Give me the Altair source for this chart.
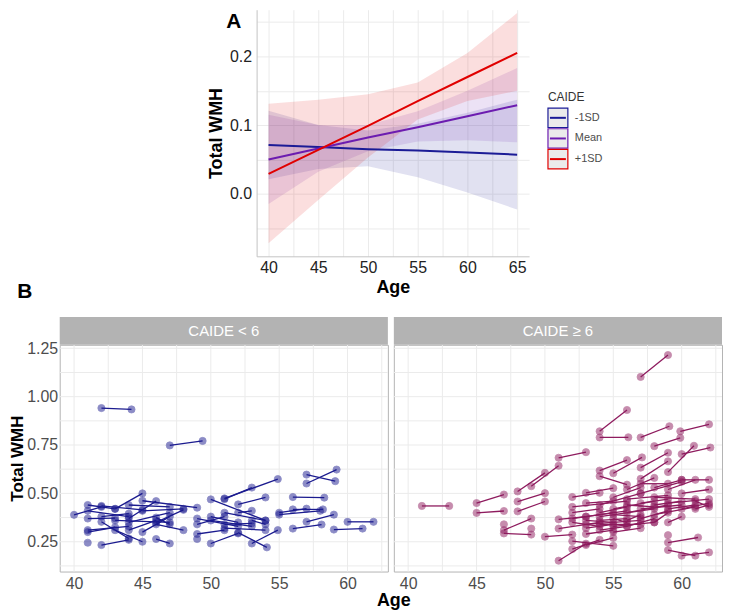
import altair as alt
import pandas as pd

FONT = "Liberation Sans"

# ---------------- Panel A data ----------------
fit_age = [40, 45, 50, 55, 60, 65]
caide_levels = ["-1SD", "Mean", "+1SD"]
caide_colors = ["#1b1b96", "#6c1cb0", "#e00000"]

fit_m1 = [0.071, 0.068, 0.065, 0.063, 0.060, 0.057]
lo_m1 = [0.021, 0.036, 0.040, 0.024, 0.002, -0.023]
hi_m1 = [0.121, 0.100, 0.092, 0.102, 0.118, 0.137]

fit_mean = [0.050, 0.066, 0.082, 0.097, 0.113, 0.129]
lo_mean = [-0.015, 0.032, 0.062, 0.076, 0.078, 0.075]
hi_mean = [0.115, 0.100, 0.100, 0.120, 0.150, 0.183]

fit_p1 = [0.029, 0.064, 0.099, 0.135, 0.170, 0.205]
lo_p1 = [-0.072, -0.009, 0.053, 0.108, 0.135, 0.150]
hi_p1 = [0.131, 0.137, 0.145, 0.162, 0.205, 0.263]

rows = []
for lvl, f, lo, hi in zip(caide_levels, [fit_m1, fit_mean, fit_p1],
                          [lo_m1, lo_mean, lo_p1], [hi_m1, hi_mean, hi_p1]):
    for a, fv, l, h in zip(fit_age, f, lo, hi):
        rows.append({"age": a, "fit": fv, "lo": l, "hi": h, "caide": lvl})
dfA = pd.DataFrame(rows)

# ---------------- Panel B data ----------------
# CAIDE < 6 : (age1, wmh1, age2, wmh2)
low_age1 = [42.0, 47.0, 57.0, 57.0, 40.0, 41.0, 41.0, 42.0, 43.0, 41.0, 41.0, 41.0, 42.0, 42.0,
            43.0, 46.0, 44.0, 44.0, 45.0, 44.0, 45.0, 46.0, 46.0, 43.0, 46.0, 45.0, 44.0, 42.0,
            49.0, 49.0, 49.0, 50.0, 50.0, 50.0, 50.0, 51.0, 51.0, 51.0, 51.0, 52.0, 52.0, 53.0,
            52.0, 53.0, 51.0, 55.0, 55.0, 56.0, 56.0, 56.0, 57.0, 59.0, 60.0]
low_wmh1 = [0.941, 0.748, 0.597, 0.551, 0.389, 0.440, 0.410, 0.435, 0.420, 0.370, 0.310, 0.300,
            0.233, 0.353, 0.310, 0.264, 0.310, 0.350, 0.462, 0.440, 0.410, 0.350, 0.375, 0.360,
            0.340, 0.300, 0.370, 0.380, 0.340, 0.370, 0.290, 0.241, 0.469, 0.380, 0.360, 0.340,
            0.320, 0.474, 0.470, 0.443, 0.400, 0.241, 0.297, 0.360, 0.400, 0.400, 0.390, 0.481,
            0.417, 0.318, 0.353, 0.313, 0.353]
low_age2 = [44.2, 49.4, 59.1, 59.2, 42.0, 43.0, 44.0, 45.0, 45.0, 43.0, 44.0, 43.0, 44.0, 44.0,
            45.0, 47.0, 46.0, 47.0, 49.0, 47.0, 48.0, 48.0, 47.0, 47.0, 48.0, 47.0, 46.0, 44.0,
            51.0, 52.0, 51.0, 52.0, 54.0, 52.0, 53.0, 53.0, 54.0, 54.9, 53.0, 54.0, 53.0, 54.9,
            54.1, 54.0, 54.0, 57.0, 58.0, 58.3, 58.2, 58.1, 59.0, 61.1, 61.9]
low_wmh2 = [0.934, 0.771, 0.563, 0.623, 0.430, 0.420, 0.380, 0.415, 0.500, 0.372, 0.330, 0.325,
            0.260, 0.267, 0.250, 0.241, 0.360, 0.400, 0.426, 0.430, 0.420, 0.415, 0.340, 0.350,
            0.310, 0.380, 0.460, 0.395, 0.380, 0.330, 0.310, 0.293, 0.360, 0.350, 0.330, 0.345,
            0.310, 0.574, 0.530, 0.479, 0.410, 0.310, 0.221, 0.340, 0.360, 0.421, 0.410, 0.478,
            0.417, 0.339, 0.390, 0.318, 0.353]
low_single_age = [41.0, 49.0]
low_single_wmh = [0.245, 0.264]

# CAIDE >= 6
high_age1 = [57.0, 54.0, 54.0, 57.0, 58.0, 59.9, 51.0, 49.0, 48.0, 54.0, 55.0, 57.0, 60.0, 59.0,
             57.0, 54.0, 41.0, 45.0, 45.0, 47.0, 47.0, 48.0, 48.0, 50.0, 51.0, 59.0, 59.0, 60.0,
             51.0, 51.0, 52.0, 53.0, 52.0, 53.0, 52.0,
             52.0, 52.0, 52.0, 53.0, 53.0, 53.0, 53.0, 53.0, 54.0, 54.0, 54.0, 54.0, 54.0, 54.0,
             55.0, 55.0, 55.0, 55.0, 55.0, 55.0, 56.0, 56.0, 56.0, 56.0, 56.0, 56.0, 57.0, 57.0,
             57.0, 57.0, 57.0, 58.0, 58.0, 58.0, 58.0, 58.0, 59.0, 59.0, 59.0, 59.0, 60.0, 60.0,
             60.0, 61.0, 52.0, 53.0, 61.0]
high_wmh1 = [1.102, 0.821, 0.789, 0.789, 0.744, 0.821, 0.684, 0.537, 0.510, 0.618, 0.604, 0.633,
             0.703, 0.610, 0.575, 0.589, 0.435, 0.450, 0.399, 0.310, 0.293, 0.458, 0.407, 0.276,
             0.152, 0.246, 0.207, 0.178, 0.366, 0.318, 0.481, 0.503, 0.212, 0.233, 0.253,
             0.400, 0.370, 0.350, 0.450, 0.380, 0.360, 0.340, 0.320, 0.440, 0.400, 0.380, 0.360,
             0.340, 0.310, 0.480, 0.420, 0.390, 0.370, 0.330, 0.300, 0.520, 0.470, 0.440, 0.400,
             0.360, 0.330, 0.550, 0.500, 0.450, 0.420, 0.370, 0.530, 0.480, 0.440, 0.390, 0.350,
             0.520, 0.450, 0.420, 0.350, 0.570, 0.500, 0.420, 0.460, 0.430, 0.290, 0.420]
high_age2 = [59.0, 56.0, 56.1, 59.1, 59.9, 62.0, 53.0, 51.0, 50.0, 56.0, 57.1, 59.0, 62.1, 60.9,
             59.0, 56.0, 43.0, 47.0, 47.0, 49.0, 49.0, 50.0, 50.0, 52.0, 53.0, 61.2, 61.0, 62.0,
             53.0, 54.0, 54.0, 55.0, 54.0, 55.0, 55.0,
             54.0, 55.0, 54.0, 55.0, 56.0, 55.0, 57.0, 55.0, 57.0, 56.0, 58.0, 56.0, 57.0, 56.0,
             57.0, 58.0, 57.0, 56.0, 58.0, 57.0, 58.0, 59.0, 58.0, 59.0, 57.0, 58.0, 59.0, 60.0,
             59.0, 60.0, 59.0, 60.0, 61.0, 60.0, 61.0, 59.0, 61.0, 62.0, 61.0, 60.0, 62.0, 62.0,
             62.0, 62.0, 56.0, 55.0, 62.0]
high_wmh2 = [1.215, 0.931, 0.790, 0.847, 0.787, 0.857, 0.713, 0.643, 0.606, 0.672, 0.686, 0.710,
             0.737, 0.746, 0.666, 0.545, 0.435, 0.494, 0.409, 0.370, 0.287, 0.501, 0.458, 0.287,
             0.240, 0.272, 0.178, 0.195, 0.380, 0.350, 0.503, 0.527, 0.260, 0.270, 0.229,
             0.420, 0.400, 0.330, 0.460, 0.410, 0.350, 0.360, 0.340, 0.500, 0.430, 0.420, 0.370,
             0.340, 0.330, 0.530, 0.460, 0.380, 0.350, 0.350, 0.320, 0.580, 0.490, 0.430, 0.440,
             0.390, 0.370, 0.550, 0.560, 0.470, 0.440, 0.410, 0.570, 0.470, 0.460, 0.430, 0.400,
             0.570, 0.470, 0.440, 0.380, 0.570, 0.520, 0.450, 0.430, 0.460, 0.310, 0.440]
high_single_age = [47.0, 49.0, 59.0]
high_single_wmh = [0.340, 0.318, 0.284]

# tick / grid positions of panel B
xB_ticks = [40, 45, 50, 55, 60]
yB_ticks = [0.25, 0.5, 0.75, 1.0, 1.25]
xB_grid = [40 + 2.5 * i for i in range(10)]
yB_grid = [0.125 * i for i in range(1, 11)]


def long_df(a1, w1, a2, w2, sa, sw, prefix):
    recs = []
    for i, (x1, y1, x2, y2) in enumerate(zip(a1, w1, a2, w2)):
        recs.append({"id": f"{prefix}{i}", "age": x1, "wmh": y1})
        recs.append({"id": f"{prefix}{i}", "age": x2, "wmh": y2})
    for j, (x, y) in enumerate(zip(sa, sw)):
        recs.append({"id": f"{prefix}s{j}", "age": x, "wmh": y})
    return pd.DataFrame(recs)


dfLow = long_df(low_age1, low_wmh1, low_age2, low_wmh2, low_single_age, low_single_wmh, "L")
dfHigh = long_df(high_age1, high_wmh1, high_age2, high_wmh2, high_single_age, high_single_wmh, "H")

# ---------------- Panel A ----------------
A_W, A_H = 274, 248
col_scale = alt.Scale(domain=caide_levels, range=caide_colors)
xA_scale = alt.Scale(domain=[38.8, 66.2], nice=False, zero=False)
yA_scale = alt.Scale(domain=[-0.091, 0.268], nice=False, zero=False)
xA_axis = alt.Axis(values=[40 + 2.5 * i for i in range(11)],
                   labelExpr="datum.value % 5 == 0 ? datum.label : ''", labelOverlap=False,
                   title="Age", grid=True, gridColor="#ebebeb", ticks=False,
                   domainColor="#c4c4c4", labelFontSize=16, labelColor="#222222",
                   labelPadding=3, titleFontSize=18, titleFontWeight="bold",
                   titleColor="#000000", titlePadding=3, labelFont=FONT, titleFont=FONT)
yA_axis = alt.Axis(values=[-0.05, 0, 0.05, 0.1, 0.15, 0.2, 0.25],
                   labelExpr="abs(round(datum.value * 20)) % 2 == 0 ? format(datum.value, '.1f') : ''",
                   labelOverlap=False,
                   title="Total WMH", grid=True, gridColor="#ebebeb", ticks=False,
                   domainColor="#c4c4c4", labelFontSize=16, labelColor="#222222",
                   labelPadding=5, titleFontSize=18, titleFontWeight="bold",
                   titleColor="#000000", titlePadding=4, labelFont=FONT, titleFont=FONT)

ribbons = alt.Chart(dfA).mark_area(opacity=0.13).encode(
    x=alt.X("age:Q", scale=xA_scale, axis=xA_axis),
    y=alt.Y("lo:Q", scale=yA_scale, axis=yA_axis),
    y2="hi:Q",
    fill=alt.Fill("caide:N", scale=col_scale, legend=None),
)
lines = alt.Chart(dfA).mark_line(strokeWidth=2).encode(
    x=alt.X("age:Q", scale=xA_scale, axis=xA_axis),
    y=alt.Y("fit:Q", scale=yA_scale, axis=yA_axis),
    color=alt.Color("caide:N", scale=col_scale, legend=None),
)
labelA = alt.Chart(pd.DataFrame({"t": ["A"]})).mark_text(
    font=FONT, fontSize=21, fontWeight="bold", align="center", baseline="top", color="#000000"
).encode(x=alt.value(-23), y=alt.value(1), text="t:N")

panelA = alt.layer(ribbons, lines, labelA).properties(width=A_W, height=A_H)

# Legend for panel A
leg_df = pd.DataFrame({"caide": caide_levels})
leg_y = alt.Y("caide:N", scale=alt.Scale(domain=caide_levels, range=[99, 160],
                                          paddingInner=0.06, paddingOuter=0), axis=None)
leg_box = alt.Chart(leg_df).mark_rect(fill="#ebebeb", strokeWidth=1.2).encode(
    y=leg_y, x=alt.value(0), x2=alt.value(20),
    stroke=alt.Stroke("caide:N", scale=col_scale, legend=None))
leg_line = alt.Chart(leg_df).mark_rule(strokeWidth=2).encode(
    y=leg_y, x=alt.value(2), x2=alt.value(18),
    color=alt.Color("caide:N", scale=col_scale, legend=None))
leg_text = alt.Chart(leg_df).mark_text(font=FONT, fontSize=11, align="left",
                                       baseline="middle", color="#4d4d4d").encode(
    y=leg_y, x=alt.value(27), text="caide:N")
leg_title = alt.Chart(pd.DataFrame({"t": ["CAIDE"]})).mark_text(
    font=FONT, fontSize=12, align="left", baseline="middle", color="#333333"
).encode(x=alt.value(0), y=alt.value(88), text="t:N")
legend = alt.layer(leg_box, leg_line, leg_text, leg_title).properties(width=60, height=A_H)

# left spacer of the top row, carrying the "B" tag
spacer = alt.Chart(pd.DataFrame({"t": ["B"]})).mark_text(
    font=FONT, fontSize=21, fontWeight="bold", align="center", baseline="middle",
    color="#000000").encode(x=alt.value(-35), y=alt.value(284), text="t:N"
).properties(width=179, height=A_H)

row1 = alt.hconcat(spacer, panelA, legend, spacing=19, bounds="flush")

# ---------------- Panel B ----------------
B_W, B_H = 330, 228
xB_scale = alt.Scale(domain=[38.95, 62.95], nice=False, zero=False)
yB_scale = alt.Scale(domain=[0.096, 1.268], nice=False, zero=False)
df_xgrid = pd.DataFrame({"g": xB_grid})
df_ygrid = pd.DataFrame({"g": yB_grid})


def panelB(df, color, strip_text, first):
    xax = alt.Axis(values=xB_ticks, format="d", title=None, grid=False, ticks=False,
                   domain=False, labelFontSize=16, labelColor="#4d4d4d", labelPadding=4,
                   labelFont=FONT)
    if first:
        yax = alt.Axis(values=yB_ticks, format=".2f", title="Total WMH", grid=False,
                       ticks=False, domain=False, labelFontSize=16, labelColor="#4d4d4d",
                       labelPadding=2, titleFontSize=17, titleFontWeight="bold",
                       titleColor="#000000", titlePadding=0, labelFont=FONT, titleFont=FONT)
    else:
        yax = alt.Axis(values=yB_ticks, labels=False, ticks=False, domain=False, title=None,
                       grid=False)
    gx = alt.Chart(df_xgrid).mark_rule(color="#ebebeb", strokeWidth=1).encode(
        x=alt.X("g:Q", scale=xB_scale, axis=xax))
    gy = alt.Chart(df_ygrid).mark_rule(color="#ebebeb", strokeWidth=1).encode(
        y=alt.Y("g:Q", scale=yB_scale, axis=yax))
    ln = alt.Chart(df).mark_line(strokeWidth=1.3, color=color).encode(
        x=alt.X("age:Q", scale=xB_scale, axis=xax),
        y=alt.Y("wmh:Q", scale=yB_scale, axis=yax),
        detail="id:N")
    pt = alt.Chart(df).mark_circle(size=52, color=color, opacity=0.5, stroke=color,
                                   strokeWidth=0.8).encode(
        x=alt.X("age:Q", scale=xB_scale, axis=xax),
        y=alt.Y("wmh:Q", scale=yB_scale, axis=yax))
    strip = alt.Chart(pd.DataFrame({"s": [strip_text]})).mark_rect(color="#b3b3b3").encode(
        x=alt.value(0), x2=alt.value(B_W), y=alt.value(-28), y2=alt.value(0))
    stxt = alt.Chart(pd.DataFrame({"s": [strip_text]})).mark_text(
        font=FONT, fontSize=15, color="#ffffff", align="center", baseline="middle").encode(
        x=alt.value(B_W / 2), y=alt.value(-14), text="s:N")
    layers = [gx, gy, ln, pt, strip, stxt]
    if first:
        age_t = alt.Chart(pd.DataFrame({"t": ["Age"]})).mark_text(
            font=FONT, fontSize=18, fontWeight="bold", align="center", baseline="middle",
            color="#000000").encode(x=alt.value(336), y=alt.value(258), text="t:N")
        layers += [age_t]
    return alt.layer(*layers).properties(
        width=B_W, height=B_H, view=alt.ViewBackground(stroke="#b3b3b3", strokeWidth=1))


b1 = panelB(dfLow, "#1b1b8f", "CAIDE < 6", True)
b2 = panelB(dfHigh, "#8e1b5e", "CAIDE ≥ 6", False)
row2 = alt.hconcat(b1, b2, spacing=6, bounds="flush")

chart = alt.vconcat(row1, row2, spacing=14).properties(
    padding=0
).configure(font=FONT).configure_view(stroke=None)

chart.save("out.html", embed_options={"renderer": "svg", "actions": False})
